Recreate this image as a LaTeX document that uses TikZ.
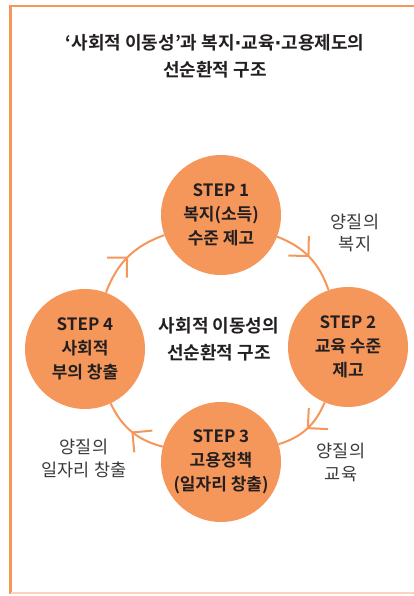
\documentclass[tikz,border=0pt]{standalone}
\usepackage{fontspec}
\setmainfont{Noto Sans CJK KR}[BoldFont={Noto Sans CJK KR Bold}]
\newfontfamily\dotfont{DejaVu Sans}
\usetikzlibrary{arrows.meta,decorations.markings}
\definecolor{stepfill}{HTML}{F5975A}
\definecolor{ringline}{HTML}{F5965A}
\definecolor{framepale}{HTML}{FBD3B8}
\definecolor{textdark}{HTML}{231F20}
\definecolor{textgray}{HTML}{3A3A3A}
\newcommand{\mdot}{{\dotfont\bfseries ·}}

\begin{document}
\begin{tikzpicture}[x=1pt,y=1pt,
    stepnode/.style={circle,fill=stepfill,minimum size=120pt,inner sep=0pt,
        align=center,text=textdark,font=\bfseries\fontsize{17}{24}\selectfont},
    cyclelabel/.style={align=center,text=textgray,font=\fontsize{17.5}{22}\selectfont},
    cycle/.style={ringline,line width=2pt,postaction={decorate},
        decoration={markings,mark=at position 0.5 with {\arrow{Straight Barb[angle=90:20pt]}}}}]
    \useasboundingbox (0,0) rectangle (414,596);
    % Frame
    \draw[stepfill,line width=2.5pt] (10.5,2) -- (10.5,590) -- (414,590);
    \draw[framepale,line width=2pt] (10.5,3) -- (414,3);
    % Title
    \node[align=center,text=textdark,font=\bfseries\fontsize{18}{27}\selectfont]
        (title) at (215,539.5) {‘사회적 이동성’과 복지\mdot 교육\mdot 고용제도의\\선순환적 구조};
    % Steps
    \node[stepnode] (s1) at (221,381) {STEP 1\\복지(소득)\\수준 제고};
    \node[stepnode] (s2) at (348,249) {STEP 2\\교육 수준\\제고};
    \node[stepnode] (s3) at (221,134) {STEP 3\\고용정책\\(일자리 창출)};
    \node[stepnode] (s4) at (85,247) {STEP 4\\사회적\\부의 창출};
    % Cycle
    \draw[cycle] (s1) to[bend left=25] (s2);
    \draw[cycle] (s2) to[bend left=25] (s3);
    \draw[cycle] (s3) to[bend left=25] (s4);
    \draw[cycle] (s4) to[bend left=25] (s1);
    % Labels
    \node[align=center,text=textdark,font=\bfseries\fontsize{18}{27}\selectfont]
        (core) at (219,256.5) {사회적 이동성의\\선순환적 구조};
    \node[cyclelabel] (welfare) at (355,363.5) {양질의\\복지};
    \node[cyclelabel,font=\fontsize{17.5}{23}\selectfont] (education) at (341,133.5) {양질의\\교육};
    \node[cyclelabel,font=\fontsize{17.5}{23}\selectfont] (jobs) at (84,137.5) {양질의\\일자리 창출};
\end{tikzpicture}
\end{document}
